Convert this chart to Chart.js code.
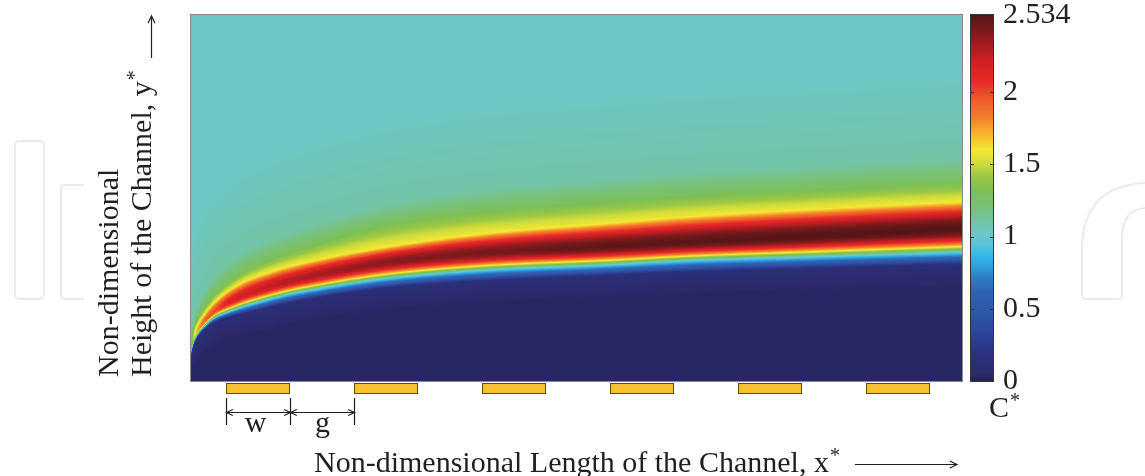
<!DOCTYPE html>
<html>
<head>
<meta charset="utf-8">
<script src="https://cdn.jsdelivr.net/npm/chart.js@4.4.0/dist/chart.umd.min.js"></script>
<style>
  html, body { margin: 0; padding: 0; background: #fff; }
  #wrap { width: 1145px; height: 476px; }
</style>
</head>
<body>
<div id="wrap"><canvas id="field"></canvas></div>
<script>
const colX    = [0, 0.023, 0.055, 0.102, 0.188, 0.305, 0.461, 0.852, 1.633, 2.414, 3.195, 3.977, 4.758, 5.539, 6.023];
// y* of the C* maximum and the value there
const ridgeY  = [0.085, 0.117, 0.139, 0.161, 0.191, 0.216, 0.240, 0.279, 0.328, 0.352, 0.366, 0.380, 0.393, 0.407, 0.415];
const peakC   = [1.15, 1.5, 1.75, 1.9, 2.0, 2.15, 2.22, 2.3, 2.4, 2.45, 2.5, 2.52, 2.53, 2.534, 2.534];
// y* where C* ~ 0.1 and ~ 0.9 below the band
const navyY   = [0.069, 0.098, 0.120, 0.139, 0.161, 0.175, 0.188, 0.219, 0.257, 0.275, 0.287, 0.298, 0.306, 0.314, 0.317];
const blueY   = [0.077, 0.106, 0.128, 0.147, 0.172, 0.189, 0.207, 0.241, 0.282, 0.303, 0.314, 0.328, 0.336, 0.344, 0.349];
// y* where C* ~ 1.6, ~ 1.3 and ~ 1.1 above the band
const yellowY = [0.096, 0.131, 0.155, 0.180, 0.216, 0.249, 0.278, 0.320, 0.372, 0.407, 0.429, 0.451, 0.467, 0.481, 0.489];
const greenY  = [0.107, 0.144, 0.172, 0.199, 0.237, 0.273, 0.308, 0.361, 0.435, 0.469, 0.489, 0.508, 0.521, 0.535, 0.543];
const haloY   = [0.126, 0.172, 0.207, 0.243, 0.287, 0.325, 0.363, 0.416, 0.489, 0.527, 0.549, 0.571, 0.584, 0.601, 0.609];
const bulkC = 1.02;

const electrodeStart = [0.273, 1.273, 2.273, 3.273, 4.273, 5.273];
const electrodeWidth = 0.5;

const cMax = 2.534;
const cTicks = [0, 0.5, 1, 1.5, 2, 2.534];
const cStops = [
  [0.00, "#262257"], [0.05, "#2b2a6c"], [0.20, "#2b3482"], [0.32, "#2c439a"],
  [0.45, "#2e55a8"], [0.62, "#3063b2"], [0.72, "#2f7fc6"], [0.80, "#2ba3de"],
  [0.87, "#35b8ea"], [0.95, "#5ec4dc"], [1.02, "#6cc6c5"], [1.10, "#72c4a6"],
  [1.20, "#78c17a"], [1.32, "#7dbf55"], [1.42, "#9bc844"], [1.50, "#cddb3a"],
  [1.60, "#f3e835"], [1.70, "#f8b82c"], [1.82, "#f3802c"], [1.95, "#ef5a29"],
  [2.08, "#e62a27"], [2.22, "#d01f24"], [2.32, "#a81c20"], [2.42, "#7e1a1c"],
  [2.534, "#551517"]
];

const serif = '"Liberation Serif", "Times New Roman", serif';
const ink = "#231f20";

function hexRgb(h) {
  return [parseInt(h.slice(1, 3), 16), parseInt(h.slice(3, 5), 16), parseInt(h.slice(5, 7), 16)];
}

// lookup table for the colour scale
const lutSize = 1024;
const lut = [];
for (let i = 0; i < lutSize; i++) {
  const v = i / (lutSize - 1) * cMax;
  let k = 0;
  while (k < cStops.length - 2 && v > cStops[k + 1][0]) k++;
  const a = cStops[k], b = cStops[k + 1];
  const t = Math.max(0, Math.min(1, (v - a[0]) / (b[0] - a[0])));
  const ca = hexRgb(a[1]), cb = hexRgb(b[1]);
  lut.push([0, 1, 2].map(j => Math.round(ca[j] + (cb[j] - ca[j]) * t)));
}
function colourFor(v) {
  const i = Math.round(Math.max(0, Math.min(cMax, v)) / cMax * (lutSize - 1));
  return lut[i];
}

// monotone cubic through the read-off columns, so the band has no kinks
function monotone(ys) {
  const n = colX.length;
  const d = [], m = [];
  for (let i = 0; i < n - 1; i++) d.push((ys[i + 1] - ys[i]) / (colX[i + 1] - colX[i]));
  m.push(d[0]);
  for (let i = 1; i < n - 1; i++) {
    m.push(d[i - 1] * d[i] <= 0 ? 0 : 2 / (1 / d[i - 1] + 1 / d[i]));
  }
  m.push(d[n - 2]);
  return x => {
    if (x <= colX[0]) return ys[0];
    if (x >= colX[n - 1]) return ys[n - 1];
    let i = 0;
    while (x > colX[i + 1]) i++;
    const hh = colX[i + 1] - colX[i];
    const t = (x - colX[i]) / hh;
    const t2 = t * t, t3 = t2 * t;
    return (2 * t3 - 3 * t2 + 1) * ys[i] + (t3 - 2 * t2 + t) * hh * m[i] +
           (-2 * t3 + 3 * t2) * ys[i + 1] + (t3 - t2) * hh * m[i + 1];
  };
}
const curves = {
  ridge: monotone(ridgeY), peak: monotone(peakC), navy: monotone(navyY), blue: monotone(blueY),
  yellow: monotone(yellowY), green: monotone(greenY), halo: monotone(haloY)
};

function lin(y, y0, y1, v0, v1) {
  return v0 + (v1 - v0) * (y - y0) / (y1 - y0);
}

function fieldC(y, p) {
  const pk = p.peak;
  const vBlue = Math.min(0.9, pk);
  const vYel = Math.min(1.6, pk);
  const vGrn = Math.min(1.3, vYel);
  const vHalo = Math.min(1.1, vGrn);
  if (y <= p.navy - 0.06) return 0.03;
  if (y <= p.navy) return lin(y, p.navy - 0.06, p.navy, 0.03, 0.12);
  if (y <= p.blue) return lin(y, p.navy, p.blue, 0.12, vBlue);
  if (y <= p.ridge) {
    const t = (y - p.blue) / (p.ridge - p.blue);
    return vBlue + (pk - vBlue) * Math.sin(t * Math.PI / 2);
  }
  if (y <= p.yellow) {
    const t = (y - p.ridge) / (p.yellow - p.ridge);
    return pk + (vYel - pk) * (1 - Math.cos(t * Math.PI / 2));
  }
  if (y <= p.green) return lin(y, p.yellow, p.green, vYel, vGrn);
  if (y <= p.halo) return lin(y, p.green, p.halo, vGrn, vHalo);
  if (y <= p.halo + 0.25) return lin(y, p.halo, p.halo + 0.25, vHalo, bulkC);
  return bulkC;
}

function arrowHead(ctx, x, y, dir, size) {
  // open arrow head, dir is the angle it points to
  ctx.beginPath();
  ctx.moveTo(x - size * Math.cos(dir - 0.45), y - size * Math.sin(dir - 0.45));
  ctx.lineTo(x, y);
  ctx.lineTo(x - size * Math.cos(dir + 0.45), y - size * Math.sin(dir + 0.45));
  ctx.stroke();
}

const fieldPlugin = {
  id: "fieldPlugin",
  beforeDraw(chart) {
    const ctx = chart.ctx;
    ctx.save();
    ctx.fillStyle = "#fff";
    ctx.fillRect(0, 0, chart.width, chart.height);

    // faint watermark
    ctx.strokeStyle = "#ebebeb";
    ctx.lineWidth = 2;
    ctx.beginPath();
    ctx.roundRect(15, 141, 29, 158, 4);
    ctx.stroke();
    ctx.beginPath();
    ctx.moveTo(84, 185); ctx.lineTo(65, 185);
    ctx.quadraticCurveTo(61, 185, 61, 189);
    ctx.lineTo(61, 295);
    ctx.quadraticCurveTo(61, 299, 65, 299);
    ctx.lineTo(84, 299);
    ctx.stroke();
    ctx.beginPath();
    ctx.moveTo(1145, 183);
    ctx.quadraticCurveTo(1082, 186, 1082, 250);
    ctx.lineTo(1082, 295);
    ctx.quadraticCurveTo(1082, 299, 1086, 299);
    ctx.lineTo(1118, 299);
    ctx.quadraticCurveTo(1122, 299, 1122, 295);
    ctx.lineTo(1122, 240);
    ctx.quadraticCurveTo(1122, 209, 1145, 208);
    ctx.stroke();
    ctx.restore();
  },
  beforeDatasetsDraw(chart) {
    const { ctx, chartArea: area, scales } = chart;
    const xs = scales.x, ys = scales.y, cs = scales.c;
    const w = Math.round(area.right - area.left);
    const h = Math.round(area.bottom - area.top);
    const off = document.createElement("canvas");
    off.width = w; off.height = h;
    const octx = off.getContext("2d");
    const img = octx.createImageData(w, h);
    const rowY = [];
    for (let j = 0; j < h; j++) rowY.push(ys.getValueForPixel(area.top + j + 0.5));
    for (let i = 0; i < w; i++) {
      const xv = xs.getValueForPixel(area.left + i + 0.5);
      const p = {};
      for (const key in curves) p[key] = curves[key](xv);
      for (let j = 0; j < h; j++) {
        const c = colourFor(fieldC(rowY[j], p));
        const k = (j * w + i) * 4;
        img.data[k] = c[0]; img.data[k + 1] = c[1]; img.data[k + 2] = c[2]; img.data[k + 3] = 255;
      }
    }
    octx.putImageData(img, 0, 0);
    ctx.save();
    ctx.drawImage(off, area.left, area.top);

    ctx.strokeStyle = "#8a8a8a";
    ctx.lineWidth = 1;
    ctx.strokeRect(area.left - 0.5, area.top - 0.5, w + 1, h + 1);

    // colour bar
    const barL = area.right + 9, barW = 22;
    const t0 = Math.round(cs.getPixelForValue(cMax)), t1 = Math.round(cs.getPixelForValue(0));
    for (let py = t0; py < t1; py++) {
      const c = colourFor(cs.getValueForPixel(py + 0.5));
      ctx.fillStyle = `rgb(${c[0]},${c[1]},${c[2]})`;
      ctx.fillRect(barL, py, barW, 1);
    }
    ctx.strokeStyle = "#333";
    ctx.strokeRect(barL - 0.5, t0 - 0.5, barW + 1, t1 - t0 + 1);
    cTicks.forEach(v => {
      if (v === 0 || v === cMax) return;
      const py = Math.round(cs.getPixelForValue(v)) + 0.5;
      ctx.beginPath();
      ctx.moveTo(barL, py); ctx.lineTo(barL + 3, py);
      ctx.moveTo(barL + barW, py); ctx.lineTo(barL + barW - 3, py);
      ctx.stroke();
    });
    ctx.restore();
  },
  afterDraw(chart) {
    const { ctx, chartArea: area, scales } = chart;
    const xs = scales.x;
    ctx.save();

    // electrodes under the channel
    electrodeStart.forEach(s => {
      const x0 = Math.round(xs.getPixelForValue(s));
      const x1 = Math.round(xs.getPixelForValue(s + electrodeWidth));
      ctx.fillStyle = "#f5c232";
      ctx.fillRect(x0, area.bottom + 2, x1 - x0, 11);
      ctx.strokeStyle = "#5e4b16";
      ctx.lineWidth = 1;
      ctx.strokeRect(x0 + 0.5, area.bottom + 2.5, x1 - x0 - 1, 10);
    });

    // w and g dimensions
    const xa = Math.round(xs.getPixelForValue(electrodeStart[0])) + 0.5;
    const xb = Math.round(xs.getPixelForValue(electrodeStart[0] + electrodeWidth)) + 0.5;
    const xc = Math.round(xs.getPixelForValue(electrodeStart[1])) + 0.5;
    const dimY = area.bottom + 31.5;
    ctx.strokeStyle = ink;
    ctx.lineWidth = 1.2;
    ctx.beginPath();
    [xa, xb, xc].forEach(x => { ctx.moveTo(x, area.bottom + 17); ctx.lineTo(x, area.bottom + 44); });
    ctx.moveTo(xa, dimY); ctx.lineTo(xc, dimY);
    ctx.stroke();
    arrowHead(ctx, xa, dimY, Math.PI, 7);
    arrowHead(ctx, xb, dimY, 0, 7);
    arrowHead(ctx, xb, dimY, Math.PI, 7);
    arrowHead(ctx, xc, dimY, 0, 7);

    ctx.fillStyle = ink;
    ctx.font = "30px " + serif;
    ctx.textBaseline = "alphabetic";
    ctx.textAlign = "center";
    ctx.fillText("w", (xa + xb) / 2 - 3, area.bottom + 51);
    ctx.fillText("g", (xb + xc) / 2, area.bottom + 51);

    // x title with arrow
    ctx.textAlign = "left";
    const xTitle = "Non-dimensional Length of the Channel, x";
    ctx.fillText(xTitle, 314, 472);
    const xEnd = 314 + ctx.measureText(xTitle).width;
    ctx.font = "20px " + serif;
    ctx.fillText("*", xEnd + 1, 462);
    ctx.beginPath();
    ctx.moveTo(xEnd + 26, 464.5); ctx.lineTo(957, 464.5);
    ctx.stroke();
    arrowHead(ctx, 957, 464.5, 0, 8);

    // y title, two lines, with arrow
    ctx.save();
    ctx.translate(118, 377);
    ctx.rotate(-Math.PI / 2);
    ctx.font = "30px " + serif;
    ctx.fillText("Non-dimensional", 0, 0);
    ctx.restore();

    ctx.save();
    ctx.translate(151, 377);
    ctx.rotate(-Math.PI / 2);
    ctx.font = "30px " + serif;
    const yTitle = "Height of the Channel, y";
    ctx.fillText(yTitle, 0, 0);
    const yEnd = ctx.measureText(yTitle).width;
    ctx.font = "20px " + serif;
    ctx.fillText("*", yEnd + 1, -10);
    ctx.restore();
    ctx.beginPath();
    ctx.moveTo(151.5, 58); ctx.lineTo(151.5, 16);
    ctx.stroke();
    arrowHead(ctx, 151.5, 16, -Math.PI / 2, 8);

    // colour bar label
    ctx.font = "30px " + serif;
    ctx.fillText("C", 989, 417);
    ctx.font = "20px " + serif;
    ctx.fillText("*", 1010, 407);
    ctx.restore();
  }
};

new Chart("field", {
  type: "scatter",
  data: { datasets: [] },
  options: {
    responsive: true,
    maintainAspectRatio: false,
    animation: false,
    events: [],
    layout: { padding: { left: 191, top: 15, bottom: 95, right: 0 } },
    plugins: { legend: { display: false }, tooltip: { enabled: false } },
    scales: {
      x: { type: "linear", min: 0, max: 6.023, display: false },
      y: { type: "linear", min: 0, max: 1, display: false },
      c: {
        type: "linear",
        position: "right",
        min: 0,
        max: cMax,
        afterBuildTicks: scale => { scale.ticks = cTicks.map(v => ({ value: v })); },
        afterFit: scale => {
          scale.width = 183;
          scale.paddingTop = 0;
          scale.paddingBottom = 0;
        },
        grid: { display: false, drawTicks: false },
        border: { display: false },
        ticks: {
          padding: 41,
          color: ink,
          font: { family: serif, size: 30 },
          callback: v => String(v)
        }
      }
    }
  },
  plugins: [fieldPlugin]
});
</script>
</body>
</html>
